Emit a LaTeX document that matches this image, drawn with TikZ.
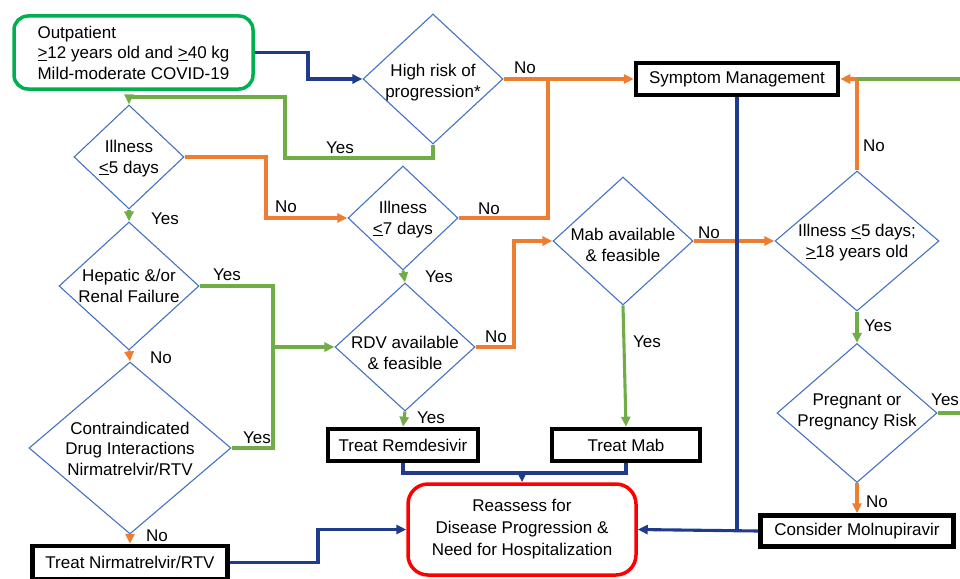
\documentclass[tikz,border=0pt]{standalone}
\usepackage{fontspec}
\setmainfont{Liberation Sans}
\usetikzlibrary{arrows.meta,shapes.geometric}
\definecolor{cor}{HTML}{ED7D31}
\definecolor{cgr}{HTML}{70AD47}
\definecolor{cbl}{HTML}{1F3C8C}
\definecolor{cdi}{HTML}{4472C4}
\definecolor{cgb}{HTML}{00B050}
\newcommand\dtext[2][-8pt]{\smash{\makebox[0pt]{\raisebox{#1}{\begin{tabular}{@{}c@{}}#2\end{tabular}}}}}
\tikzset{
  dia/.style={shape=diamond, draw=cdi, line width=1.1pt, inner sep=0pt},
  bx/.style={draw=black, line width=4.5pt, inner sep=0pt, align=center},
  ln/.style={line width=3.1pt},
  arr/.style={line width=3.1pt, -{Triangle[length=10pt,width=9pt]}},
  lab/.style={inner sep=0pt}
}
\begin{document}
\begin{tikzpicture}[x=1pt,y=-1pt,font=\fontsize{17pt}{20.5pt}\selectfont]
\fill[white] (0,0) rectangle (960,578);
\useasboundingbox (0,0) rectangle (960,578);

% boxes
\node[draw=cgb, line width=3.5pt, rounded corners=14pt, minimum width=239pt, minimum height=73pt, inner sep=0pt, align=left] (out) at (133.5,52.5) {Outpatient\\\underline{>}12 years old and \underline{>}40 kg\\Mild-moderate COVID-19};
\node[bx, minimum width=202pt, minimum height=32pt] (sym) at (737,79) {Symptom Management};
\node[bx, minimum width=150pt, minimum height=32pt] (rem) at (403,445) {Treat Remdesivir};
\node[bx, minimum width=148pt, minimum height=32pt] (mab) at (626,445) {Treat Mab};
\node[bx, minimum width=193pt, minimum height=31pt] (mol) at (857,531) {Consider Molnupiravir};
\node[bx, minimum width=195pt, minimum height=33pt] (nir) at (130,562.5) {Treat Nirmatrelvir/RTV};
\node[draw=red, line width=3.5pt, rounded corners=20pt, minimum width=228pt, minimum height=91pt, inner sep=0pt, align=center, font=\fontsize{17pt}{22pt}\selectfont] (reas) at (522,529.5) {Reassess for\\Disease Progression \&\\Need for Hospitalization};

% diamonds
\node[dia, minimum width=140pt, minimum height=130pt] (hr) at (433,79) {\dtext{High risk of\\progression*}};
\node[dia, minimum width=110pt, minimum height=104pt] (il5) at (129,157) {\dtext[-6pt]{Illness\\\underline{<}5 days}};
\node[dia, minimum width=140pt, minimum height=128pt] (hep) at (129,286) {\dtext[-6pt]{Hepatic \&/or\\Renal Failure}};
\node[dia, minimum width=202pt, minimum height=172pt] (ci) at (130,448) {\dtext[-7pt]{Contraindicated\\Drug Interactions\\Nirmatrelvir/RTV}};
\node[dia, minimum width=110pt, minimum height=104pt] (il7) at (403,218) {\dtext[-6pt]{Illness\\\underline{<}7 days}};
\node[dia, minimum width=140pt, minimum height=128pt] (rdv) at (405,347) {\dtext[-12pt]{RDV available\\\& feasible}};
\node[dia, minimum width=140pt, minimum height=128pt] (mabd) at (623,241) {\dtext[-10pt]{Mab available\\\& feasible}};
\node[dia, minimum width=164pt, minimum height=140pt] (ill18) at (857,241) {\dtext[-6pt]{Illness \underline{<}5 days;\\\underline{>}18 years old}};
\node[dia, minimum width=160pt, minimum height=139pt] (preg) at (857,413) {\dtext[-3pt]{Pregnant or\\Pregnancy Risk}};

% connectors
\draw[arr, cbl] (out.east) -- (308,52.5) |- (hr.west);
\draw[arr, cgr] (hr.south) -- (433,158) -| (285,97) -| (il5.north);
\draw[arr, cor] (hr.east) -- (sym.west);
\draw[ln, cor] (il7.east) -- (548,218) -- (548,79);
\draw[arr, cor] (il5.east) -- (266,157) |- (il7.west);
\draw[arr, cgr] (il5.south) -- (hep.north);
\draw[arr, cgr] (hep.east) -- (273,286) |- (rdv.west);
\draw[ln, cgr] (ci.east) -- (273,448) -- (273,347);
\draw[arr, cor] (hep.south) -- (ci.north);
\draw[arr, cor] (ci.south) -- (nir.north);
\draw[arr, cgr] (il7.south) -- (rdv.north);
\draw[arr, cgr] (rdv.south) -- (rem.north);
\draw[arr, cor] (rdv.east) -- (514,347) |- (mabd.west);
\draw[arr, cgr] (mabd.south) -- (mab.north);
\draw[arr, cor] (mabd.east) -- (ill18.west);
\draw[ln, cbl] (sym.south) -- (737,531);
\draw[arr, cbl] (mol.west) -- (reas.east);
\draw[arr, cor] (ill18.north) |- (sym.east);
\draw[ln, cgr] (preg.east) -- (975,413) |- (857,79);
\draw[arr, cgr] (ill18.south) -- (preg.north);
\draw[arr, cor] (preg.south) -- (mol.north);
\draw[arr, cbl] (nir.east) -- (318,562.5) |- (reas.west);
\draw[ln, cbl] (rem.south) -- (403,473) -| (mab.south);
\draw[arr, cbl] (522,473) -- (reas.north);

% labels
\node[lab] (l1) at (340,148) {Yes};
\node[lab] (l2) at (525,68) {No};
\node[lab] (l3) at (489,209) {No};
\node[lab] (l4) at (286,207) {No};
\node[lab] (l5) at (165,219) {Yes};
\node[lab] (l6) at (227,275) {Yes};
\node[lab] (l7) at (161,358) {No};
\node[lab] (l8) at (439,277) {Yes};
\node[lab] (l9) at (496,337) {No};
\node[lab] (l10) at (257,438) {Yes};
\node[lab] (l11) at (157,536) {No};
\node[lab] (l12) at (431,418) {Yes};
\node[lab] (l13) at (709,233) {No};
\node[lab] (l14) at (647,342) {Yes};
\node[lab] (l15) at (874,146) {No};
\node[lab] (l16) at (878,326) {Yes};
\node[lab] (l17) at (877,502) {No};
\node[lab, anchor=west] (l18) at (931,400) {Yes};
\end{tikzpicture}
\end{document}
